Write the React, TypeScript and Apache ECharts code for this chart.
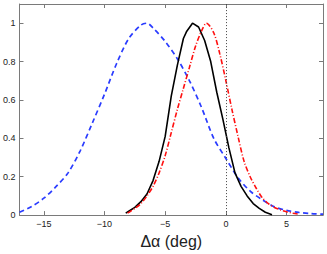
import React, { useEffect, useRef } from "react";
import * as echarts from "echarts";

const xTicks = [-15, -10, -5, 0, 5];
const yTicks = [0, 0.2, 0.4, 0.6, 0.8, 1];

const blueX = [-17, -16, -15, -14, -13, -12, -11, -10, -9, -8, -7, -6.5, -6, -5, -4, -3, -2, -1, 0, 1, 2, 3, 4, 5, 6, 7, 8];
const blueY = [0.015, 0.045, 0.088, 0.148, 0.22, 0.335, 0.48, 0.63, 0.79, 0.92, 0.99, 1.0, 0.975, 0.905, 0.815, 0.7, 0.56, 0.4, 0.295, 0.195, 0.125, 0.08, 0.043, 0.025, 0.014, 0.008, 0.005];

const blackX = [-8.25, -8, -7.5, -7, -6.5, -6, -5.5, -5, -4.5, -4, -3.5, -3.25, -2.75, -2.25, -1.75, -1.25, -0.75, -0.25, 0.25, 0.75, 1.25, 1.75, 2.25, 2.75, 3.25, 3.8];
const blackY = [0.01, 0.02, 0.04, 0.07, 0.11, 0.18, 0.28, 0.41, 0.62, 0.78, 0.92, 0.955, 1.0, 0.98, 0.91, 0.8, 0.64, 0.5, 0.35, 0.22, 0.15, 0.1, 0.06, 0.035, 0.015, 0.002];

const redX = [-8.1, -7.5, -7, -6.5, -6, -5.5, -5, -4.5, -4, -3.5, -3, -2.5, -2, -1.6, -1, -0.5, 0, 0.5, 1, 1.5, 2, 2.5, 3, 3.5, 4, 4.5, 5, 5.5, 6];
const redY = [0.01, 0.035, 0.06, 0.1, 0.15, 0.22, 0.31, 0.43, 0.55, 0.66, 0.77, 0.88, 0.96, 1.0, 0.95, 0.84, 0.7, 0.55, 0.41, 0.28, 0.2, 0.14, 0.09, 0.06, 0.04, 0.027, 0.017, 0.01, 0.005];

const zip = (xs: number[], ys: number[]) => xs.map((x, i) => [x, ys[i]]);

export default function App() {
  const ref = useRef<HTMLDivElement>(null);
  useEffect(() => {
    if (!ref.current) return;
    const chart = echarts.init(ref.current, undefined, { renderer: "svg" });
    const frame = "#7a7a7a";
    const labelFont = { fontSize: 9, color: "#222", fontFamily: "Liberation Sans, Arial, sans-serif" };
    const fmt = (v: number) => String(v).replace("-", "\u2212");
    chart.setOption({
      animation: false,
      grid: { left: 14, right: 4, top: 4, bottom: 33, containLabel: false },
      xAxis: [
        {
          type: "value", min: -17, max: 8, position: "bottom",
          axisLine: { show: true, lineStyle: { color: frame, width: 1 } },
          axisTick: { show: true, inside: true, length: 4, customValues: xTicks, lineStyle: { color: frame } },
          axisLabel: { show: true, customValues: xTicks, margin: 4, formatter: fmt, ...labelFont },
          splitLine: { show: false },
          name: "\u0394\u03b1 (deg)", nameLocation: "middle", nameGap: 14,
          nameTextStyle: { fontSize: 16, color: "#222", fontFamily: "Liberation Sans, Arial, sans-serif" },
        },
        {
          type: "value", min: -17, max: 8, position: "top",
          axisLine: { show: true, onZero: false, lineStyle: { color: frame, width: 1 } },
          axisTick: { show: true, inside: true, length: 4, customValues: xTicks, lineStyle: { color: frame } },
          axisLabel: { show: false },
          splitLine: { show: false },
        },
      ],
      yAxis: [
        {
          type: "value", min: 0, max: 1.1, position: "left",
          axisLine: { show: true, onZero: false, lineStyle: { color: frame, width: 1 } },
          axisTick: { show: true, inside: true, length: 4, customValues: yTicks, lineStyle: { color: frame } },
          axisLabel: { show: true, customValues: yTicks, margin: 4, ...labelFont },
          splitLine: { show: false },
        },
        {
          type: "value", min: 0, max: 1.1, position: "right",
          axisLine: { show: true, onZero: false, lineStyle: { color: frame, width: 1 } },
          axisTick: { show: true, inside: true, length: 4, customValues: yTicks, lineStyle: { color: frame } },
          axisLabel: { show: false },
          splitLine: { show: false },
        },
      ],
      series: [
        {
          type: "line", data: zip(blueX, blueY), smooth: 0.3, showSymbol: false,
          lineStyle: { color: "#2a3cff", width: 1.7, type: [5, 3.5] },
          markLine: {
            silent: true, symbol: "none", label: { show: false },
            lineStyle: { color: "#444", width: 1, type: [1, 2] },
            data: [{ xAxis: 0 }],
          },
        },
        {
          type: "line", data: zip(blackX, blackY), smooth: false, showSymbol: false,
          lineStyle: { color: "#000", width: 1.6, type: "solid" },
        },
        {
          type: "line", data: zip(redX, redY), smooth: 0.3, showSymbol: false,
          lineStyle: { color: "#ff1010", width: 1.6, type: [5, 2, 1, 2] },
        },
      ],
    });
    return () => chart.dispose();
  }, []);
  return <div ref={ref} style={{ width: 327, height: 254, position: "absolute", left: 0, top: 0 }} />;
}
